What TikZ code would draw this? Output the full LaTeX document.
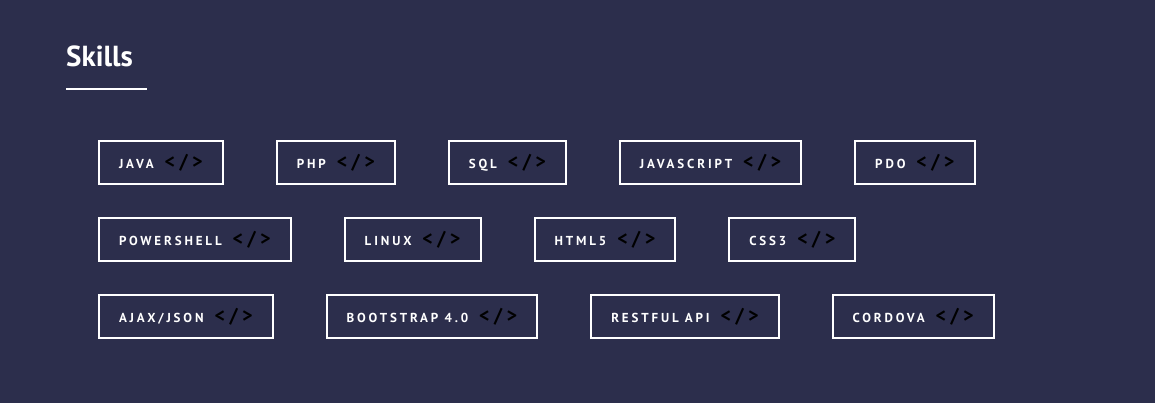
\documentclass[tikz,border=0pt]{standalone}
\usepackage{fontspec}
\setmainfont{PT Sans}
\newfontfamily\tagfont{PT Sans}[LetterSpace=22]
\usetikzlibrary{positioning}

\definecolor{bgnavy}{HTML}{2C2E4C}
\newcommand{\skilltag}[1]{{\color{white}#1}\hspace{11pt}{\color{black}\fontsize{20}{14}\selectfont</>}}

\begin{document}
\begin{tikzpicture}
        [x=1pt, y=-1pt, node distance=52pt,
         skill/.style={draw=white, line width=2pt, inner xsep=20pt,
                       minimum height=43pt, font=\tagfont\bfseries\fontsize{13}{14}\selectfont},
         heading/.style={anchor=base west, inner sep=0pt, text=white,
                         font=\bfseries\fontsize{29}{32}\selectfont}]

        \fill[bgnavy] (0,0) rectangle (1155,403);

        \node[heading] (skills) at (66,67) {Skills};
        \coordinate (rule start) at (66,89);
        \coordinate (rule end) at (147,89);
        \draw[white, line width=2pt] (rule start) -- (rule end);

        % first row
        \node[skill, anchor=north west] (java) at (98,140) {\skilltag{JAVA}};
        \node[skill] (php) [right=of java] {\skilltag{PHP}};
        \node[skill] (sql) [right=of php] {\skilltag{SQL}};
        \node[skill] (javascript) [right=of sql] {\skilltag{JAVASCRIPT}};
        \node[skill] (pdo) [right=of javascript] {\skilltag{PDO}};

        % second row
        \node[skill, anchor=north west] (powershell) at (98,217) {\skilltag{POWERSHELL}};
        \node[skill] (linux) [right=of powershell] {\skilltag{LINUX}};
        \node[skill] (html) [right=of linux] {\skilltag{HTML5}};
        \node[skill] (css) [right=of html] {\skilltag{CSS3}};

        % third row
        \node[skill, anchor=north west] (ajax) at (98,294) {\skilltag{AJAX/JSON}};
        \node[skill] (bootstrap) [right=of ajax] {\skilltag{BOOTSTRAP 4.0}};
        \node[skill] (restful) [right=of bootstrap] {\skilltag{RESTFUL API}};
        \node[skill] (cordova) [right=of restful] {\skilltag{CORDOVA}};
\end{tikzpicture}
\end{document}
